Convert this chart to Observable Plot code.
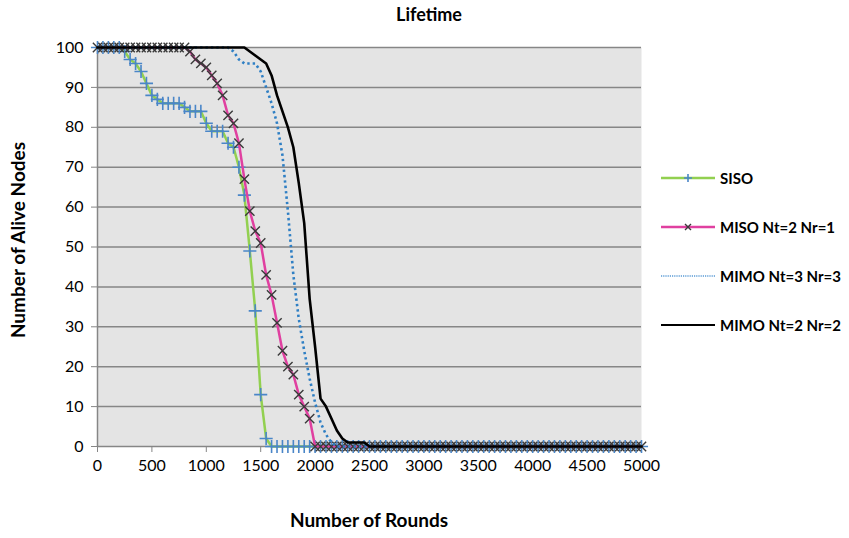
<!DOCTYPE html>
<html>
<head>
<meta charset="utf-8">
<script src="https://cdn.jsdelivr.net/npm/d3@7"></script>
<script src="https://cdn.jsdelivr.net/npm/@observablehq/plot@0.6"></script>
<style>
  html, body { margin: 0; padding: 0; background: #fff; }
  #wrap { position: relative; width: 849px; height: 538px; font-family: Lato, "Open Sans", sans-serif; }
  #wrap svg.plot { position: absolute; left: 0; top: 0; }
  .title { position: absolute; left: 0; width: 858px; top: 3px; text-align: center; font-weight: bold; font-size: 18px; }
  .xtitle { position: absolute; left: 97px; width: 544px; top: 508px; text-align: center; font-weight: bold; font-size: 19px; }
  .ytitle { position: absolute; left: 17px; top: 240px; transform: translate(-50%, -50%) rotate(-90deg); white-space: nowrap; font-weight: bold; font-size: 19px; }
  .legend { position: absolute; left: 660px; top: 153px; }
  .legend .item { display: flex; align-items: center; height: 49px; }
  .legend .item span { font-weight: bold; font-size: 15px; margin-left: 4px; white-space: nowrap; }
</style>
</head>
<body>
<div id="wrap"></div>
<script>
// ---- data ----
const rounds = [0,50,100,150,200,250,300,350,400,450,500,550,600,650,700,750,800,850,900,950,
  1000,1050,1100,1150,1200,1250,1300,1350,1400,1450,1500,1550,1600,1650,1700,1750,1800,1850,1900,1950,
  2000,2050,2100,2150,2200,2250,2300,2350,2400,2450,2500,2550,2600,2650,2700,2750,2800,2850,2900,2950,
  3000,3050,3100,3150,3200,3250,3300,3350,3400,3450,3500,3550,3600,3650,3700,3750,3800,3850,3900,3950,
  4000,4050,4100,4150,4200,4250,4300,4350,4400,4450,4500,4550,4600,4650,4700,4750,4800,4850,4900,4950,5000];

const siso = [100,100,100,100,100,99,97,96,94,91,88,87,86,86,86,86,85,84,84,84,
  81,79,79,79,76,75,70,63,49,34,13,2,0,0,0,0,0,0,0,0,
  0,0,0,0,0,0,0,0,0,0,0,0,0,0,0,0,0,0,0,0,
  0,0,0,0,0,0,0,0,0,0,0,0,0,0,0,0,0,0,0,0,
  0,0,0,0,0,0,0,0,0,0,0,0,0,0,0,0,0,0,0,0,0];

const miso = [100,100,100,100,100,100,100,100,100,100,100,100,100,100,100,100,100,99,97,96,
  95,93,91,88,83,81,76,67,59,54,51,43,38,31,24,20,18,13,10,7,
  0,0,0,0,0,0,0,0,0,0,0,0,0,0,0,0,0,0,0,0,
  0,0,0,0,0,0,0,0,0,0,0,0,0,0,0,0,0,0,0,0,
  0,0,0,0,0,0,0,0,0,0,0,0,0,0,0,0,0,0,0,0,0];

const mimo33 = [100,100,100,100,100,100,100,100,100,100,100,100,100,100,100,100,100,100,100,100,
  100,100,100,100,100,99,97,96,96,96,94,90,86,81,73,59,43,32,24,17,
  11,6,3,1,0,0,0,0,0,0,0,0,0,0,0,0,0,0,0,0,
  0,0,0,0,0,0,0,0,0,0,0,0,0,0,0,0,0,0,0,0,
  0,0,0,0,0,0,0,0,0,0,0,0,0,0,0,0,0,0,0,0,0];

const mimo22 = [100,100,100,100,100,100,100,100,100,100,100,100,100,100,100,100,100,100,100,100,
  100,100,100,100,100,100,100,100,99,98,97,96,93,88,84,80,75,66,56,37,
  25,12,10,7,4,2,1,1,1,1,0,0,0,0,0,0,0,0,0,0,
  0,0,0,0,0,0,0,0,0,0,0,0,0,0,0,0,0,0,0,0,
  0,0,0,0,0,0,0,0,0,0,0,0,0,0,0,0,0,0,0,0,0];

const seriesNames = ["SISO", "MISO Nt=2 Nr=1", "MIMO Nt=3 Nr=3", "MIMO Nt=2 Nr=2"];
const xTicks = [0,500,1000,1500,2000,2500,3000,3500,4000,4500,5000];
const yTicks = [0,10,20,30,40,50,60,70,80,90,100];
const titleText = "Lifetime";
const xTitle = "Number of Rounds";
const yTitle = "Number of Alive Nodes";

// ---- styles ----
const C = {
  sisoLine: "#92d050", sisoMark: "#4a86c8",
  misoLine: "#e040a0", misoMark: "#3a3a3a",
  mimo33: "#2f7fc4", mimo22: "#000000",
  bg: "#e4e4e4", grid: "#868686"
};

const table = vals => rounds.map((r, i) => ({round: r, alive: vals[i]}));
const dSiso = table(siso), dMiso = table(miso), d33 = table(mimo33), d22 = table(mimo22);

const chart = Plot.plot({
  width: 849, height: 538,
  marginLeft: 97, marginRight: 208, marginTop: 47, marginBottom: 92,
  x: {domain: [0, 5000], label: null},
  y: {domain: [0, 100], label: null},
  style: {fontFamily: "Lato, 'Open Sans', sans-serif", fontSize: "16px", color: "#000", background: "transparent", overflow: "visible"},
  marks: [
    Plot.frame({fill: C.bg, stroke: null}),
    Plot.gridY(yTicks, {stroke: C.grid, strokeOpacity: 1, strokeWidth: 1.5}),
    Plot.ruleX([0], {stroke: C.grid, strokeWidth: 1.5}),
    Plot.axisX(xTicks, {tickSize: 6, tickPadding: 7, stroke: C.grid, fill: "#000", tickFormat: d => String(d), label: null}),
    Plot.axisY(yTicks, {tickSize: 6, tickPadding: 8, stroke: C.grid, fill: "#000", tickFormat: d => String(d), label: null}),
    Plot.line(dSiso, {x: "round", y: "alive", stroke: C.sisoLine, strokeWidth: 2.5}),
    Plot.dot(dSiso, {x: "round", y: "alive", symbol: "plus", r: 4.3, stroke: C.sisoMark, strokeWidth: 1.6}),
    Plot.line(dMiso, {x: "round", y: "alive", stroke: C.misoLine, strokeWidth: 2.5}),
    Plot.dot(dMiso, {x: "round", y: "alive", symbol: "times", r: 4.3, stroke: C.misoMark, strokeWidth: 1.4}),
    Plot.line(d33, {x: "round", y: "alive", stroke: C.mimo33, strokeWidth: 2.6, strokeDasharray: "2.4,3", strokeLinecap: "butt"}),
    Plot.line(d22, {x: "round", y: "alive", stroke: C.mimo22, strokeWidth: 2.6})
  ]
});
chart.classList.add("plot");

const wrap = document.getElementById("wrap");
wrap.appendChild(chart);

function addDiv(cls, text) {
  const d = document.createElement("div");
  d.className = cls; d.textContent = text; wrap.appendChild(d); return d;
}
addDiv("title", titleText);
addDiv("xtitle", xTitle);
addDiv("ytitle", yTitle);

// legend
const legend = document.createElement("div");
legend.className = "legend";
const swatches = [
  {line: C.sisoLine, dash: null, w: 2.5, sym: "plus", mark: C.sisoMark},
  {line: C.misoLine, dash: null, w: 2.5, sym: "times", mark: C.misoMark},
  {line: "#5b9bd5", dash: "1.2,1", w: 1.5, sym: null},
  {line: C.mimo22, dash: null, w: 2, sym: null}
];
seriesNames.forEach((name, i) => {
  const s = swatches[i];
  const item = document.createElement("div");
  item.className = "item";
  const svg = d3.create("svg").attr("width", 56).attr("height", 14);
  svg.append("line").attr("x1", 1).attr("x2", 55).attr("y1", 7).attr("y2", 7)
    .attr("stroke", s.line).attr("stroke-width", s.w).attr("stroke-dasharray", s.dash);
  if (s.sym === "plus") {
    svg.append("path").attr("d", "M24,7H32M28,3V11").attr("stroke", s.mark).attr("stroke-width", 1.6);
  } else if (s.sym === "times") {
    svg.append("path").attr("d", "M25,4L31,10M31,4L25,10").attr("stroke", s.mark).attr("stroke-width", 1.4);
  }
  item.appendChild(svg.node());
  const sp = document.createElement("span");
  sp.textContent = name;
  item.appendChild(sp);
  legend.appendChild(item);
});
wrap.appendChild(legend);
</script>
</body>
</html>
